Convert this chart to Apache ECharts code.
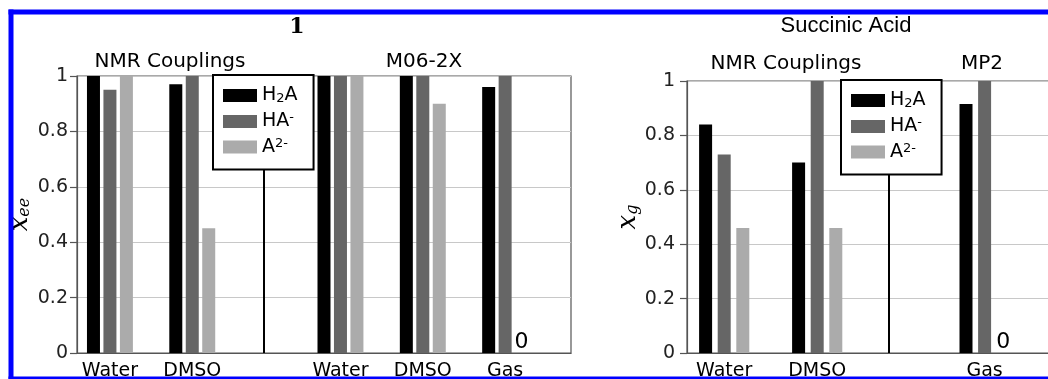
<!DOCTYPE html>
<html>
<head>
<meta charset="utf-8">
<title>Conformer populations</title>
<script src="https://cdn.jsdelivr.net/npm/echarts@6/dist/echarts.min.js"></script>
<style>
html, body { margin: 0; padding: 0; background: #fff; overflow: hidden; }
#chart { width: 1048px; height: 379px; }
</style>
</head>
<body>
<div id="chart"></div>
<script>
// molecule 1: NMR couplings (Water, DMSO), then M06-2X (Water, DMSO, Gas)
const categoriesLeft = ['Water', 'DMSO', 'Water', 'DMSO', 'Gas']
const h2aLeft = [1.0, 0.97, 1.0, 1.0, 0.96]
const haLeft = [0.95, 1.0, 1.0, 1.0, 1.0]
const a2Left = [1.0, 0.45, 1.0, 0.9, 0]

// succinic acid: NMR couplings (Water, DMSO), then MP2 (Gas)
const categoriesRight = ['Water', 'DMSO', 'Gas']
const h2aRight = [0.84, 0.7, 0.915]
const haRight = [0.73, 1.0, 1.0]
const a2Right = [0.46, 0.46, 0]

const seriesNames = ['H2A', 'HA-', 'A2-']
const yTicks = [0, 0.2, 0.4, 0.6, 0.8, 1]

// layout: slot of the first bar of each group, slots on the axis
const slotsLeft = { start: [1, 6, 15, 20, 25], count: 31 }
const slotsRight = { start: [1, 6, 15], count: 21 }
const colors = ['#000000', '#666666', '#ababab']
const axisGrey = '#555555'
const frameBlue = '#0000ff'

function axisData(cats, slots) {
    const arr = new Array(slots.count).fill('')
    cats.forEach((c, i) => {
        arr[slots.start[i] + 1] = c
    })
    return arr
}

function seriesData(values, slots, offset) {
    const arr = new Array(slots.count).fill('-')
    values.forEach((v, i) => {
        arr[slots.start[i] + offset] = v
    })
    return arr
}

function makeSeries(idx, valueSets, slots) {
    return valueSets.map((vals, k) => ({
        name: seriesNames[k],
        type: 'bar',
        xAxisIndex: idx,
        yAxisIndex: idx,
        data: seriesData(vals, slots, k),
        barWidth: 13,
        barGap: '-100%',
        itemStyle: { color: colors[k] },
        label: {
            show: true,
            position: 'top',
            distance: 0,
            fontSize: 22,
            fontFamily: 'DejaVu Sans',
            color: '#000',
            formatter: p => (p.value === 0 ? '0' : ''),
        },
    }))
}

function xAxis(idx, cats, slots) {
    return {
        type: 'category',
        gridIndex: idx,
        data: axisData(cats, slots),
        boundaryGap: false,
        axisLine: { show: true, lineStyle: { color: axisGrey, width: 1.2 } },
        axisTick: { show: false },
        axisLabel: { interval: 0, margin: 9, fontSize: 19, color: '#000' },
        splitLine: { show: false },
    }
}

function yAxis(idx, sub, gap, margin) {
    return {
        type: 'value',
        gridIndex: idx,
        min: yTicks[0],
        max: yTicks[yTicks.length - 1],
        interval: yTicks[1] - yTicks[0],
        name: '{x|x}{s|' + sub + '}',
        nameLocation: 'middle',
        nameRotate: 90,
        nameGap: gap,
        nameTextStyle: {
            rich: {
                x: { fontFamily: 'DejaVu Serif', fontStyle: 'italic', fontSize: 26, color: '#000' },
                s: { fontFamily: 'DejaVu Serif', fontStyle: 'italic', fontSize: 16, color: '#000', verticalAlign: 'bottom' },
            },
        },
        axisLine: { show: true, lineStyle: { color: axisGrey, width: 1.2 } },
        axisTick: { show: true, length: 7, lineStyle: { color: axisGrey, width: 1.2 } },
        axisLabel: { margin: margin, fontSize: 19, color: '#222' },
        splitLine: { show: true, lineStyle: { color: '#c8c8c8', width: 1.2 } },
    }
}

const legendRich = {
    n: { fontSize: 19, fontFamily: 'DejaVu Sans', color: '#000', lineHeight: 20 },
    sub: { fontSize: 13, fontFamily: 'DejaVu Sans', color: '#000', verticalAlign: 'bottom', lineHeight: 14 },
    sup: { fontSize: 13, fontFamily: 'DejaVu Sans', color: '#000', verticalAlign: 'top', lineHeight: 14 },
}

function legendLabel(name) {
    if (name === 'H2A') return '{n|H}{sub|2}{n|A}'
    if (name === 'HA-') return '{n|HA}{sup|-}'
    return '{n|A}{sup|2-}'
}

function legend(left, top) {
    return {
        data: seriesNames,
        orient: 'vertical',
        left: left,
        top: top,
        icon: 'rect',
        itemWidth: 34,
        itemHeight: 13,
        itemGap: 6,
        padding: [11, 16, 13, 10],
        borderColor: '#000',
        borderWidth: 2,
        backgroundColor: '#fff',
        selectedMode: false,
        formatter: legendLabel,
        textStyle: { rich: legendRich },
        z: 10,
    }
}

function text(str, x, y, font) {
    return {
        type: 'text',
        x: x,
        y: y,
        style: { text: str, font: font, fill: '#000', textAlign: 'center', textVerticalAlign: 'middle' },
    }
}

function line(x1, y1, x2, y2, color, width) {
    return { type: 'line', shape: { x1, y1, x2, y2 }, style: { stroke: color, lineWidth: width }, z: 20 }
}

const chart = echarts.init(document.getElementById('chart'))
chart.setOption({
    animation: false,
    textStyle: { fontFamily: 'DejaVu Sans' },
    grid: [
        { left: 77, top: 76, width: 494, height: 277, show: true, borderColor: axisGrey, borderWidth: 1.2, outerBoundsMode: 'none' },
        { left: 687, top: 81, width: 372, height: 272, show: true, borderColor: axisGrey, borderWidth: 1.2, outerBoundsMode: 'none' },
    ],
    xAxis: [xAxis(0, categoriesLeft, slotsLeft), xAxis(1, categoriesRight, slotsRight)],
    yAxis: [yAxis(0, 'ee', 44, 9), yAxis(1, 'g', 39, 12)],
    legend: [legend(213, 75), legend(841, 80)],
    series: [
        ...makeSeries(0, [h2aLeft, haLeft, a2Left], slotsLeft),
        ...makeSeries(1, [h2aRight, haRight, a2Right], slotsRight),
    ],
    graphic: [
        // blue frame, open on the right where the picture is cut
        line(8.5, 12, 1048, 12, frameBlue, 5),
        line(11, 9.5, 11, 379, frameBlue, 5),
        line(8.5, 378, 1048, 378, frameBlue, 3),
        // legend leaders down to the axis
        line(264, 170, 264, 353, '#000', 2),
        line(889, 175, 889, 353, '#000', 2),
        text('1', 297, 27, 'bold 22px "DejaVu Serif"'),
        text('Succinic Acid', 846, 26, '22px "Liberation Sans"'),
        text('NMR Couplings', 170, 62, '20px "DejaVu Sans"'),
        text('M06-2X', 424, 62, '20px "DejaVu Sans"'),
        text('NMR Couplings', 786, 64, '20px "DejaVu Sans"'),
        text('MP2', 982, 64, '20px "DejaVu Sans"'),
    ],
})
</script>
</body>
</html>
